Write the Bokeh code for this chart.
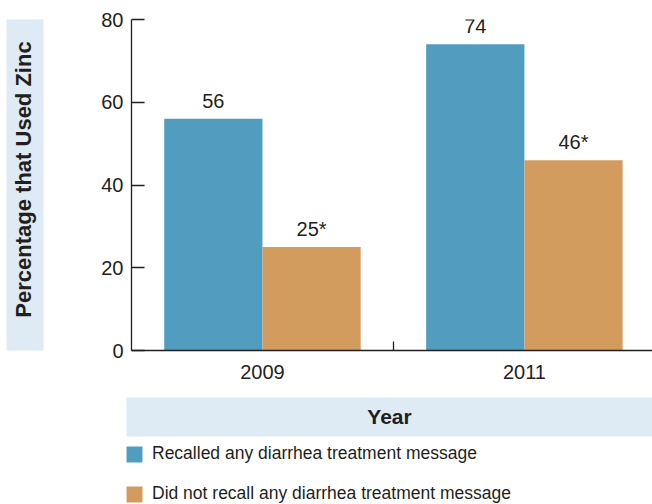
import math
from bokeh.plotting import figure
from bokeh.layouts import column, row
from bokeh.core.properties import value
from bokeh.models import (Range1d, FixedTicker, ColumnDataSource, LabelSet, Label,
                          Legend, LegendItem)
from bokeh.embed import file_html
from bokeh.resources import INLINE

# ---- data ----
years = ["2009", "2011"]
recalled = [56, 74]
not_recalled = [25, 46]
recalled_labels = ["56", "74"]
not_recalled_labels = ["25*", "46*"]
y_ticks = [0, 20, 40, 60, 80]
series_names = ["Recalled any diarrhea treatment message",
                "Did not recall any diarrhea treatment message"]
y_title = "Percentage that Used Zinc"
x_title = "Year"

# ---- style ----
BLUE = "#519dbf"
ORANGE = "#d39c5f"
BOX = "#deebf4"
INK = "#231f20"
FONT = "Liberation Sans"

TOTAL_W, TOTAL_H = 652, 504
LABEL_W = 65
TOP_H = 395
YEAR_H = 45
LEG_H = TOTAL_H - TOP_H - YEAR_H

# ---- y-title panel ----
fl = figure(width=LABEL_W, height=TOP_H, x_range=Range1d(0, 1), y_range=Range1d(0, 1),
            output_backend="svg", toolbar_location=None,
            x_axis_location=None, y_axis_location=None,
            min_border_left=6, min_border_right=LABEL_W - 43,
            min_border_top=19, min_border_bottom=TOP_H - 350)
fl.grid.visible = False
fl.outline_line_color = None
fl.background_fill_color = BOX
fl.add_layout(Label(x=17, y=171, x_units="screen", y_units="screen", text=y_title,
                    angle=math.pi / 2, text_align="center", text_baseline="middle",
                    text_font=FONT, text_font_style="bold", text_font_size="22px",
                    text_color=INK))

# ---- main chart ----
bar_w = 0.375
centers = [i + 0.5 for i in range(len(years))]
x_blue = [c - bar_w / 2 for c in centers]
x_orange = [c + bar_w / 2 for c in centers]

src = ColumnDataSource(dict(x_blue=x_blue, x_orange=x_orange,
                            recalled=recalled, not_recalled=not_recalled,
                            rl=recalled_labels, nl=not_recalled_labels))

p = figure(width=TOTAL_W - LABEL_W, height=TOP_H, x_range=Range1d(0, 1.989),
           y_range=Range1d(0, 80), output_backend="svg", toolbar_location=None,
           min_border_left=131 - LABEL_W, min_border_top=19,
           min_border_bottom=TOP_H - 350, min_border_right=0)
p.grid.visible = False
p.outline_line_color = None

p.vbar(x="x_blue", top="recalled", bottom=0, width=bar_w, source=src,
       fill_color=BLUE, line_color=None)
p.vbar(x="x_orange", top="not_recalled", bottom=0, width=bar_w, source=src,
       fill_color=ORANGE, line_color=None)

for xcol, ycol, tcol in [("x_blue", "recalled", "rl"), ("x_orange", "not_recalled", "nl")]:
    p.add_layout(LabelSet(x=xcol, y=ycol, text=tcol, source=src, text_align="center",
                          text_baseline="alphabetic", y_offset=11,
                          text_font=value(FONT), text_font_size=value("20px"),
                          text_color=value(INK)))

for ax in (p.xaxis, p.yaxis):
    ax.axis_line_color = INK
    ax.axis_line_width = 1.3
    ax.major_tick_line_color = INK
    ax.minor_tick_line_color = INK
    ax.major_tick_line_width = 1.3
    ax.minor_tick_line_width = 1.3
    ax.major_label_text_font = FONT
    ax.major_label_text_font_size = "20px"
    ax.major_label_text_color = INK

p.xaxis.ticker = FixedTicker(ticks=centers,
                             minor_ticks=[float(i) for i in range(1, len(years))])
p.xaxis.major_label_overrides = {c: y for c, y in zip(centers, years)}
p.xaxis.major_tick_in = 0
p.xaxis.major_tick_out = 0
p.xaxis.minor_tick_in = 9
p.xaxis.minor_tick_out = 0
p.xaxis.major_label_standoff = 14

p.yaxis.ticker = FixedTicker(ticks=y_ticks, minor_ticks=[])
p.yaxis.major_tick_in = 13
p.yaxis.major_tick_out = 0
p.yaxis.minor_tick_in = 0
p.yaxis.minor_tick_out = 0
p.yaxis.major_label_standoff = 8

# ---- x-title panel ----
fy = figure(width=TOTAL_W, height=YEAR_H, x_range=Range1d(0, 1), y_range=Range1d(0, 1),
            output_backend="svg", toolbar_location=None,
            x_axis_location=None, y_axis_location=None,
            min_border_left=126, min_border_right=0,
            min_border_top=397 - TOP_H, min_border_bottom=TOP_H + YEAR_H - 436)
fy.grid.visible = False
fy.outline_line_color = None
fy.background_fill_color = BOX
fy.add_layout(Label(x=263, y=20, x_units="screen", y_units="screen", text=x_title,
                    text_align="center", text_baseline="middle",
                    text_font=FONT, text_font_style="bold", text_font_size="21px",
                    text_color=INK))

# ---- legend panel (series placed far out of view; only the legend shows) ----
fg = figure(width=TOTAL_W, height=LEG_H, x_range=Range1d(100, 101),
            y_range=Range1d(1000, 1001),
            output_backend="svg", toolbar_location=None,
            x_axis_location=None, y_axis_location=None,
            min_border_left=126, min_border_right=0, min_border_top=0, min_border_bottom=0)
fg.grid.visible = False
fg.outline_line_color = None
g1 = fg.vbar(x="x_blue", top="recalled", bottom=0, width=bar_w, source=src,
             fill_color=BLUE, line_color=None)
g2 = fg.vbar(x="x_orange", top="not_recalled", bottom=0, width=bar_w, source=src,
             fill_color=ORANGE, line_color=None)
legend = Legend(items=[LegendItem(label=series_names[0], renderers=[g1]),
                       LegendItem(label=series_names[1], renderers=[g2])],
                location=(-2, 0), glyph_width=20, glyph_height=20,
                label_standoff=8, spacing=19, padding=0, margin=0,
                label_height=20, border_line_color=None, background_fill_alpha=0,
                label_text_font=FONT, label_text_font_size="17.5px",
                label_text_color=INK)
fg.add_layout(legend)

layout = column(row(fl, p), fy, fg)
open("out.html", "w").write(file_html(layout, INLINE))
